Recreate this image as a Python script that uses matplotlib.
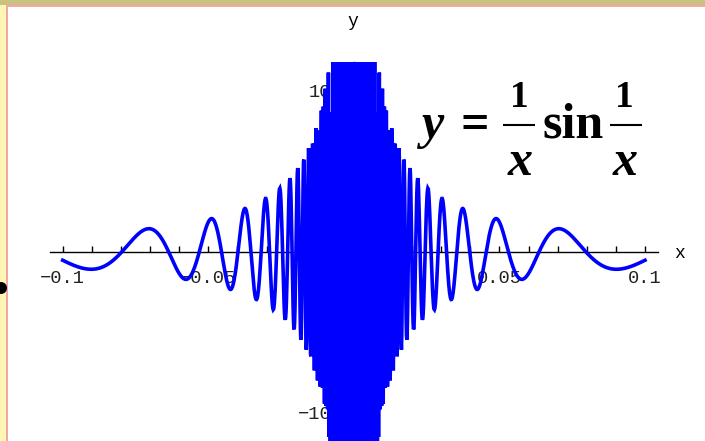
import numpy as np
import matplotlib
matplotlib.use('Agg')
import matplotlib.pyplot as plt
from matplotlib.patches import Rectangle, Circle

# y = (1/x) sin(1/x) sampled on [-0.1, 0.1]
x_start, x_end = -0.1, 0.1
n_samples = 1500
y_view = 117.7

x_ticks = [-0.1, -0.09, -0.08, -0.07, -0.06, -0.05, -0.04, -0.03, -0.02, -0.01,
           0.01, 0.02, 0.03, 0.04, 0.05, 0.06, 0.07, 0.08, 0.09, 0.1]
x_labeled = {-0.1: '\u22120.1', -0.05: '\u22120.05', 0.05: '0.05', 0.1: '0.1'}
y_ticks = [-100, -50, 50, 100]
y_tick_labels = ['\u2212100', '\u221250', '50', '100']

x = np.linspace(x_start, x_end, n_samples)
y = np.sin(1 / x) / x

W, H = 705, 441
fig = plt.figure(figsize=(W / 100, H / 100), dpi=100)

# slide background in pixel coordinates
bg = fig.add_axes([0, 0, 1, 1], zorder=0)
bg.set_xlim(0, W)
bg.set_ylim(H, 0)
bg.axis('off')
bg.add_patch(Rectangle((0, 0), 6, H, color='#fff6b4', lw=0))
bg.add_patch(Rectangle((6, 5), 1.6, H, color='#f4a8a4', lw=0))
bg.add_patch(Rectangle((0, 0), W, 5, color='#c9c180', lw=0))
bg.add_patch(Rectangle((6, 5), W, 1.6, color='#f4a8a4', lw=0))
bg.add_patch(Circle((1, 288), 6, color='black', lw=0))

bg.text(680, 254, 'x', ha='center', va='center', family='Liberation Mono', fontsize=13)
bg.text(353, 22, 'y', ha='center', va='center', family='Liberation Mono', fontsize=13)

# formula y = (1/x) sin(1/x), built from pieces
serif = 'Liberation Serif'
big = 36
small = 27
bg.text(422, 138, 'y', ha='left', va='baseline', family=serif, weight='bold',
        style='italic', fontsize=big)
bg.text(475, 138, '=', ha='center', va='baseline', family=serif, weight='bold', fontsize=big)
bg.text(543, 138, 'sin', ha='left', va='baseline', family=serif, weight='bold', fontsize=big)
for cx, x0, x1 in [(519, 503, 535), (624, 610, 642)]:
    bg.text(cx, 107, '1', ha='center', va='baseline', family=serif, weight='bold',
            fontsize=small)
    bg.plot([x0, x1], [125, 125], color='black', lw=1.5, solid_capstyle='butt')
    bg.text(cx + 1, 175, 'x', ha='center', va='baseline', family=serif, weight='bold',
            style='italic', fontsize=big)

# plot area: x=0 at px 353.85, 2911.5 px per unit; y from px 62 to 441
px_per_x = 2911.5
x0_px = 353.85
ax = fig.add_axes([0, 0, 1, (H - 62) / H], zorder=1)
ax.patch.set_visible(False)
ax.set_xlim(-x0_px / px_per_x, (W - x0_px) / px_per_x)
ax.set_ylim(-y_view, y_view)
ax.set_axisbelow(True)

ax.plot(x, y, color='#0000ff', lw=2.6, solid_joinstyle='miter', zorder=3)

for side in ['top', 'right']:
    ax.spines[side].set_visible(False)
ax.spines['bottom'].set_position(('data', 0))
ax.spines['left'].set_position(('data', 0))
ax.spines['bottom'].set_bounds(-0.1045, 0.1045)
for side in ['bottom', 'left']:
    ax.spines[side].set_linewidth(1.0)
    ax.spines[side].set_zorder(1)

ax.set_xticks(x_ticks)
ax.set_xticklabels([x_labeled.get(t, '') for t in x_ticks])
ax.set_yticks(y_ticks)
ax.set_yticklabels(y_tick_labels)
ax.tick_params(axis='x', direction='in', length=4, width=1, pad=13)
ax.tick_params(axis='y', direction='in', length=4, width=1, pad=8)
for lab in ax.get_xticklabels() + ax.get_yticklabels():
    lab.set_family('Liberation Mono')
    lab.set_fontsize(13.5)
    lab.set_color('#222222')

fig.savefig('out.png', dpi=100)
